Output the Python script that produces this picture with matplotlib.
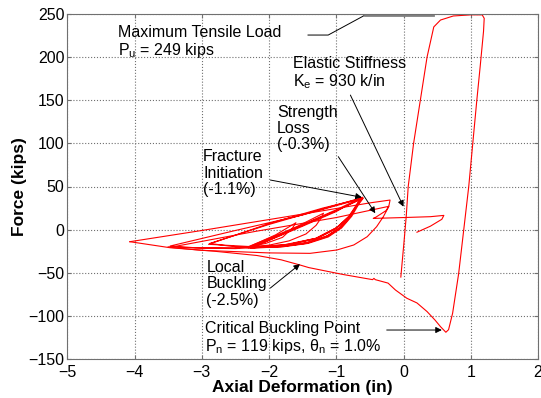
import numpy as np
import matplotlib
matplotlib.use("Agg")
import matplotlib.pyplot as plt

plt.rcParams['font.family'] = ['Liberation Sans', 'DejaVu Sans']
plt.rcParams['mathtext.fontset'] = 'custom'
plt.rcParams['mathtext.rm'] = 'Liberation Sans'
plt.rcParams['mathtext.it'] = 'Liberation Sans'

# tension excursion, buckling and compression path
tension_x = [-0.04, 0.01, 0.04, 0.07, 0.15, 0.25, 0.35, 0.45, 0.55, 0.74, 1.0, 1.17, 1.2, 1.19, 1.14,
             1.09, 1.03, 0.97, 0.89, 0.82, 0.73, 0.67, 0.63, 0.55, 0.47, 0.35, 0.2, 0.05, -0.12, -0.23,
             -0.42, -0.44, -0.46, -0.9, -1.41, -1.54, -1.82, -2.18, -2.82, -3.47, -4.07]
tension_y = [-55, -12, 15, 50, 100, 150, 200, 235, 243, 247.7, 249, 249, 245, 230, 189,
             150, 100, 50, -4, -51, -97, -116, -119, -112.5, -105, -95, -85, -79.6, -70, -62,
             -58, -56.5, -58, -52, -44, -41, -35, -30, -25, -21, -14]

# small repeated cycles (compression end about -2.3 in)
small_x = [-2.3, -1.5, -1.0, -0.62, -0.69, -0.79, -0.94, -1.14, -1.44, -1.83, -2.28,
           -1.5, -1.0, -0.63, -0.7, -0.8, -0.95, -1.15, -1.45, -1.85, -2.33,
           -1.5, -1.0, -0.61, -0.68, -0.78, -0.93, -1.13, -1.43, -1.82, -2.25,
           -1.5, -1.0, -0.6, -0.67, -0.77, -0.92, -1.12, -1.42, -1.8, -2.3]
small_y = [-21, 5, 22, 36, 28.5, 15, 1.5, -8.2, -15.9, -19.8, -21.7,
           4, 21, 37, 29, 16, 2, -8, -15.5, -19.5, -20.5,
           6, 23, 37.5, 30, 17, 3, -7, -15, -19, -21,
           5, 22, 36.5, 29, 15.5, 2, -8.5, -16, -20, -21]

# inner cycles that stop short in tension
inner_x = [-2.3, -1.7, -1.19, -1.22, -1.3, -1.45, -1.7, -2.0, -2.3, -1.9, -1.6, -1.65, -1.8, -2.05, -2.3]
inner_y = [-21, -1, 19, 14, 5, -5, -13, -18, -20, -6, 8, 2, -9, -16, -20]

# wider cycles (compression ends about -2.9 and -3.5 in)
wide_x = [-2.3, -2.6, -2.88, -2.0, -1.2, -0.62, -0.7, -0.82, -1.0, -1.3, -1.7, -2.2, -2.9,
          -2.0, -1.2, -0.6, -0.68, -0.8, -0.98, -1.3, -1.8, -2.5, -3.1, -3.47,
          -2.5, -1.5, -0.62, -0.7, -0.8, -1.0, -1.3, -1.8, -2.5, -3.0, -3.5]
wide_y = [-21, -19, -16, 6, 24, 37, 28, 15, 2, -10, -17, -20, -17,
          7, 25, 36.5, 29, 16, 3, -10, -18, -21, -21, -19,
          -1, 17, 36, 27, 15, 1, -11, -19, -22, -21.5, -20]

# last cycles after the compression excursion to -4.07 in
final_x = [-4.07, -3.0, -1.5, -0.5, -0.2, -0.22, -0.3, -0.4, -0.54, -0.74, -0.99, -1.39, -2.0, -3.0, -3.47,
           -2.2, -1.0, -0.22, -0.26, -0.34, -0.42, -0.45, 0.0, 0.4, 0.6, 0.57, 0.4, 0.2]
final_y = [-14, -1, 18, 31, 34.3, 26.6, 15, 3.4, -8.2, -17.8, -23.6, -27.5, -27, -24, -20.5,
           -2, 14, 27, 22, 18, 14, 13, 14, 15, 16.5, 12, 4, -3]

fig = plt.figure(figsize=(5.41, 3.98), dpi=100)
ax = fig.add_axes([67.3 / 541, 39 / 398, (538 - 67.3) / 541, 345 / 398])

red = '#ff0000'
for xs, ys in [(small_x, small_y), (inner_x, inner_y), (wide_x, wide_y),
               (tension_x, tension_y), (final_x, final_y)]:
    ax.plot(xs, ys, color=red, lw=0.8)

ax.set_xlim(-5, 2)
ax.set_ylim(-150, 250)
ax.set_xticks(np.arange(-5, 3, 1))
ax.set_yticks(np.arange(-150, 300, 50))
ax.grid(True, linestyle=':', color='#707070', lw=0.8)
ax.tick_params(direction='in', top=True, right=True, length=3, color='#707070', labelsize=11.5, pad=2)
ax.tick_params(axis='x', pad=4)
for s in ax.spines.values():
    s.set_color('#707070')
    s.set_linewidth(0.8)

ax.set_xlabel('Axial Deformation (in)', fontsize=12.5, fontweight='bold', labelpad=0)
ax.set_ylabel('Force (kips)', fontsize=12.5, fontweight='bold', labelpad=1)

tfs = 11.5
ax.text(-4.25, 237, 'Maximum Tensile Load\nP$_\\mathregular{u}$ = 249 kips', fontsize=tfs, va='top', linespacing=1.05)
ax.text(-1.65, 201, 'Elastic Stiffness\nK$_\\mathregular{e}$ = 930 k/in', fontsize=tfs, va='top', linespacing=1.05)
ax.text(-1.88, 145, 'Strength\nLoss\n(-0.3%)', fontsize=tfs, va='top', linespacing=1.1)
ax.text(-2.98, 93, 'Fracture\nInitiation\n(-1.1%)', fontsize=tfs, va='top', linespacing=1.1)
ax.text(-2.93, -35.5, 'Local\nBuckling\n(-2.5%)', fontsize=tfs, va='top', linespacing=1.1)
ax.text(-2.95, -106.5, 'Critical Buckling Point\nP$_\\mathregular{n}$ = 119 kips, θ$_\\mathregular{n}$ = 1.0%',
        fontsize=tfs, va='top', linespacing=1.05)

# leader for max tensile load
ax.plot([-1.42, -1.12, -0.57], [225.6, 225.6, 248.8], color='k', lw=0.7)
ax.plot([-0.57, 0.44], [249, 249], color='#808080', lw=2)

arrow = dict(arrowstyle='-|>', color='k', lw=0.7, mutation_scale=9, shrinkA=0, shrinkB=0)
ax.annotate('', xy=(0.0, 26.6), xytext=(-0.79, 156), arrowprops=arrow)
ax.annotate('', xy=(-0.42, 19), xytext=(-0.97, 84.6), arrowprops=arrow)
ax.annotate('', xy=(-0.62, 37.5), xytext=(-1.98, 57.5), arrowprops=arrow)
ax.annotate('', xy=(-1.54, -40), xytext=(-1.98, -67.7), arrowprops=arrow)
ax.annotate('', xy=(0.57, -116.4), xytext=(-0.25, -116.4), arrowprops=arrow)

fig.savefig('out.png', dpi=100)
